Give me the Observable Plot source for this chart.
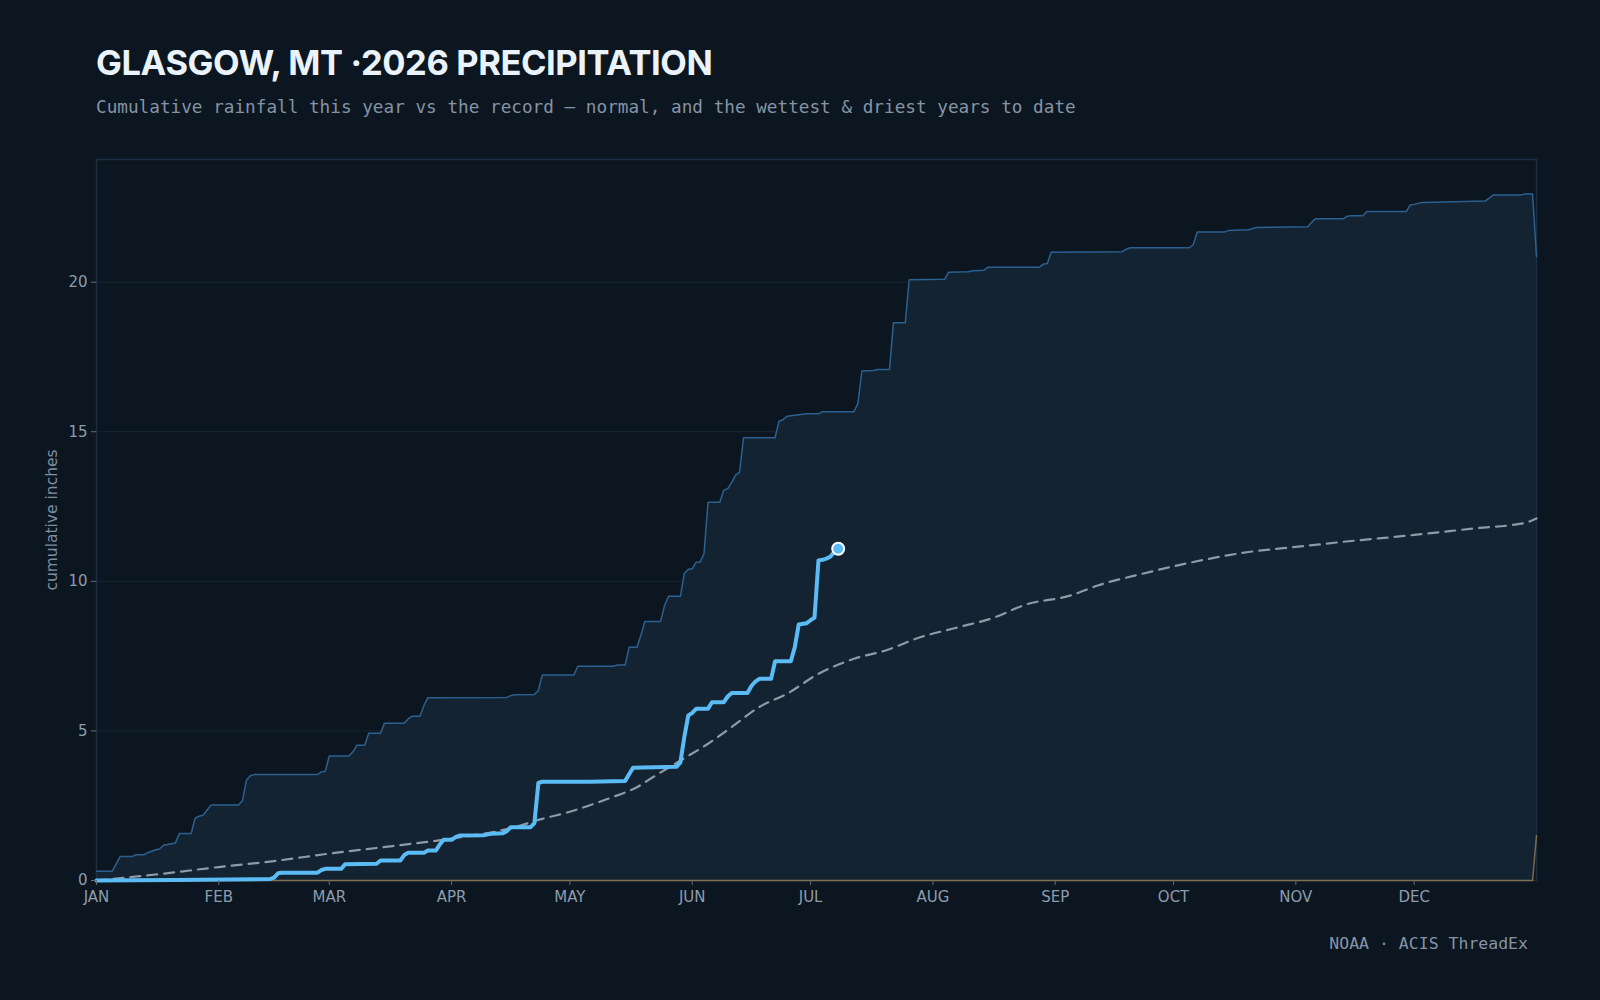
<!DOCTYPE html>
<html>
<head>
<meta charset="utf-8">
<script src="https://cdn.jsdelivr.net/npm/d3@7"></script>
<script src="https://cdn.jsdelivr.net/npm/@observablehq/plot@0.6"></script>
<style>
  html, body { margin: 0; padding: 0; background: #0c1620; }
  #wrap { position: relative; width: 1600px; height: 1000px; background: #0c1620; overflow: hidden; }
  #title { position: absolute; left: 96px; top: 42px; font-family: Inter, "Noto Sans", sans-serif; font-weight: 700; font-size: 34.5px; letter-spacing: -0.4px; color: #eaf3fb; white-space: nowrap; }
  #subtitle { position: absolute; left: 96px; top: 97px; font-family: "DejaVu Sans Mono", monospace; font-size: 17.7px; color: #8594a5; white-space: nowrap; }
  #chart { position: absolute; left: 0; top: 140px; }
  #caption { position: absolute; right: 72px; top: 934px; font-family: "DejaVu Sans Mono", monospace; font-size: 16.5px; color: #8594a5; white-space: nowrap; }
</style>
</head>
<body>
<div id="wrap">
  <div id="title">GLASGOW, MT ·2026 PRECIPITATION</div>
  <div id="subtitle">Cumulative rainfall this year vs the record — normal, and the wettest &amp; driest years to date</div>
  <div id="chart"></div>
  <div id="caption">NOAA · ACIS ThreadEx</div>
</div>
<script>
// ---- axis ticks ----
const monthStarts = [0, 31, 59, 90, 120, 151, 181, 212, 243, 273, 304, 334];
const monthLabels = ["JAN","FEB","MAR","APR","MAY","JUN","JUL","AUG","SEP","OCT","NOV","DEC"];
const yTicks = [0, 5, 10, 15, 20];

// ---- wettest year to date (day of year, cumulative inches) ----
const wettestDay = [0,4,6,9,10,12,13,15,16,17,18,20,21,24,25,26,27,28,29,36,37,38,39,40,56,57,58,59,64,65,66,68,69,72,73,78,79,80,82,83,84,104,105,106,111,112,113,121,122,131,132,134,135,137,138,139,143,144,145,148,149,150,151,152,153,154,155,158,159,160,161,162,163,164,172,173,174,175,177,180,183,184,192,193,194,197,198,201,202,205,206,215,216,221,222,225,226,239,240,241,242,260,261,262,277,278,279,286,287,292,294,307,308,309,316,317,318,321,322,332,333,334,336,352,354,361,362,364,365];
const wettestIn  = [0.31,0.31,0.80,0.80,0.86,0.86,0.93,1.03,1.05,1.18,1.20,1.25,1.57,1.57,2.08,2.15,2.18,2.35,2.52,2.52,2.67,3.35,3.50,3.54,3.54,3.63,3.65,4.16,4.16,4.30,4.52,4.52,4.92,4.92,5.26,5.26,5.40,5.49,5.49,5.85,6.11,6.12,6.18,6.21,6.22,6.35,6.87,6.87,7.16,7.16,7.20,7.20,7.80,7.80,8.20,8.66,8.66,9.20,9.50,9.50,10.27,10.40,10.42,10.64,10.64,10.93,12.64,12.64,13.05,13.10,13.30,13.55,13.65,14.80,14.80,15.35,15.40,15.52,15.55,15.60,15.60,15.67,15.67,15.95,17.03,17.05,17.08,17.08,18.64,18.64,20.08,20.10,20.33,20.35,20.38,20.40,20.50,20.50,20.60,20.62,21.00,21.02,21.10,21.15,21.15,21.25,21.68,21.68,21.73,21.75,21.83,21.85,22.00,22.12,22.12,22.20,22.22,22.22,22.36,22.36,22.58,22.60,22.66,22.71,22.91,22.91,22.95,22.95,20.85];

// ---- driest year to date ----
const driestDay = [0, 364, 365];
const driestIn  = [0, 0, 1.5];

// ---- normal ----
const normalDay = [0,15,31,45,59,75,90,105,113,120,130,137,141,148,155,161,168,175,183,192,200,209,218,228,235,247,254,265,276,292,304,316,334,350,362,365];
const normalIn  = [0,0.20,0.45,0.65,0.90,1.15,1.40,1.75,2.06,2.30,2.75,3.12,3.45,4.01,4.57,5.13,5.80,6.24,6.91,7.41,7.69,8.14,8.45,8.81,9.20,9.53,9.87,10.25,10.59,10.98,11.15,11.32,11.55,11.78,11.95,12.10];

// ---- this year (2026) ----
const thisDay = [0,20,44,45,46,47,56,57,58,62,63,71,72,77,78,79,83,84,86,87,88,90,91,92,98,100,103,104,105,110,111,112,113,125,134,135,136,147,148,149,150,151,152,155,156,159,160,161,165,166,167,168,171,172,176,177,178,180,181,182,183,184,185,186,187,188];
const thisIn  = [0,0.02,0.05,0.10,0.24,0.26,0.26,0.35,0.39,0.39,0.54,0.56,0.67,0.67,0.85,0.93,0.93,1.00,1.00,1.20,1.36,1.36,1.45,1.50,1.51,1.56,1.58,1.65,1.78,1.78,1.92,3.26,3.30,3.30,3.33,3.55,3.77,3.80,3.95,4.80,5.52,5.60,5.74,5.74,5.96,5.96,6.15,6.27,6.27,6.50,6.65,6.74,6.74,7.33,7.33,7.80,8.56,8.60,8.70,8.79,10.70,10.72,10.76,10.82,10.98,11.09];

// ---- build tables ----
const driestAt = d => {
  for (let i = 0; i < driestDay.length - 1; i++) {
    if (d >= driestDay[i] && d <= driestDay[i + 1]) {
      const t = (d - driestDay[i]) / (driestDay[i + 1] - driestDay[i] || 1);
      return driestIn[i] + t * (driestIn[i + 1] - driestIn[i]);
    }
  }
  return driestIn[driestIn.length - 1];
};
const wettest = wettestDay.map((d, i) => ({day: d, hi: wettestIn[i], lo: driestAt(d)}));
const driest = driestDay.map((d, i) => ({day: d, v: driestIn[i]}));
const normal = normalDay.map((d, i) => ({day: d, v: normalIn[i]}));
const thisYear = thisDay.map((d, i) => ({day: d, v: thisIn[i]}));
const today = [thisYear[thisYear.length - 1]];

const chart = Plot.plot({
  width: 1600,
  height: 780,
  marginLeft: 96,
  marginRight: 64,
  marginTop: 19,
  marginBottom: 40,
  style: {background: "transparent", color: "#8d9cad", fontFamily: "DejaVu Sans, sans-serif", fontSize: "15px"},
  x: {domain: [0, 365]},
  y: {domain: [0, 24.1]},
  marks: [
    Plot.gridY(yTicks.filter(d => d > 0), {stroke: "#172838", strokeOpacity: 1, strokeWidth: 1}),
    Plot.areaY(wettest, {x: "day", y1: "lo", y2: "hi", fill: "#132332", curve: "linear"}),
    Plot.frame({stroke: "#1b2f40", strokeWidth: 1.5}),
    Plot.lineY(wettest, {x: "day", y: "hi", stroke: "#2b6090", strokeWidth: 1.5, curve: "linear"}),
    Plot.lineY(driest, {x: "day", y: "v", stroke: "#a2855a", strokeOpacity: 0.75, strokeWidth: 1.5}),
    Plot.lineY(normal, {x: "day", y: "v", stroke: "#8e9aa6", strokeWidth: 2.2, strokeDasharray: "10,7", curve: "monotone-x"}),
    Plot.lineY(thisYear, {x: "day", y: "v", stroke: "#5bbcf5", strokeWidth: 4, strokeLinejoin: "round", strokeLinecap: "round"}),
    Plot.dot(today, {x: "day", y: "v", r: 6, fill: "#5bbcf5", stroke: "#ffffff", strokeWidth: 2}),
    Plot.axisX(monthStarts, {tickSize: 5, tickPadding: 6, stroke: "#5c6e80", fill: "#8d9cad", tickFormat: d => monthLabels[monthStarts.indexOf(d)], label: null}),
    Plot.axisY(yTicks, {tickSize: 5, tickPadding: 4, stroke: "#5c6e80", fill: "#8d9cad", label: null}),
    Plot.text(["cumulative inches"], {frameAnchor: "left", dx: -44, rotate: -90, textAnchor: "middle", fill: "#7d8ea0", fontSize: 15.5})
  ]
});
document.getElementById("chart").appendChild(chart);
</script>
</body>
</html>
